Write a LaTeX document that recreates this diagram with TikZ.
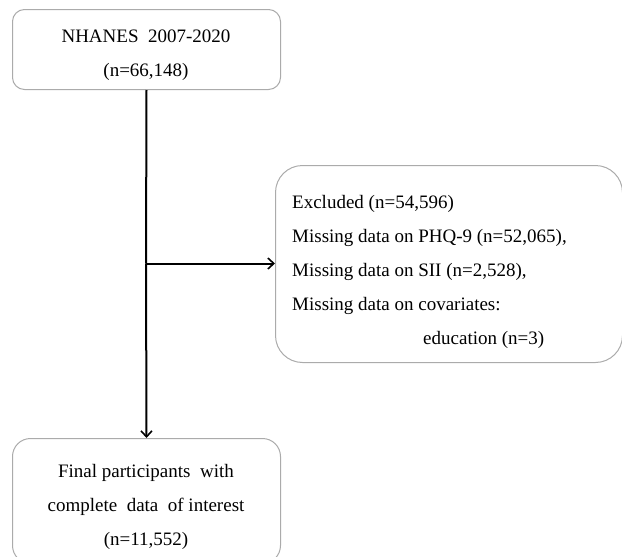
\documentclass[tikz,border=0pt]{standalone}
\usepackage{fontspec}
\setmainfont{Liberation Serif}
\usetikzlibrary{arrows.meta}
\definecolor{boxgray}{HTML}{ABABAB}
\begin{document}
\begin{tikzpicture}[x=1pt,y=-1pt,
  box/.style={draw=boxgray, line width=1pt, rounded corners=#1, anchor=north west, inner sep=0pt},
  box/.default=12pt,
  txt/.style={font=\fontsize{19}{34}\selectfont, inner sep=0pt},
  conn/.style={line width=2pt, -{Straight Barb[length=6pt,width=11pt,line width=1.6pt]}}]
\useasboundingbox (0,0) rectangle (622,557);
\node[box, minimum width=268pt, minimum height=80pt] (top) at (12,9) {};
\node[txt, align=center, anchor=north] (toptxt) at (146,29.2) {NHANES\ \ 2007-2020\\(n=66,148)};
\node[box=27pt, minimum width=347pt, minimum height=197pt] (excl) at (275,165) {};
\node[txt, align=left, anchor=north west] (excltxt) at (292,194.8) {Excluded (n=54,596)\\Missing data on PHQ-9 (n=52,065),\\Missing data on SII (n=2,528),\\Missing data on covariates:\\\hspace*{131pt}education (n=3)};
\node[box=18pt, minimum width=268pt, minimum height=125pt] (final) at (12,438) {};
\node[txt, align=center, anchor=north] (finaltxt) at (146,464) {Final participants\ \ with\\complete\ \ data\ \ of interest\\(n=11,552)};
\coordinate (branch) at (146,263.5);
\draw[line width=2pt] (top.south) -- (branch);
\draw[conn] (branch) -- (final.north);
\draw[conn] (branch) -- (branch -| excl.west);
\end{tikzpicture}
\end{document}
